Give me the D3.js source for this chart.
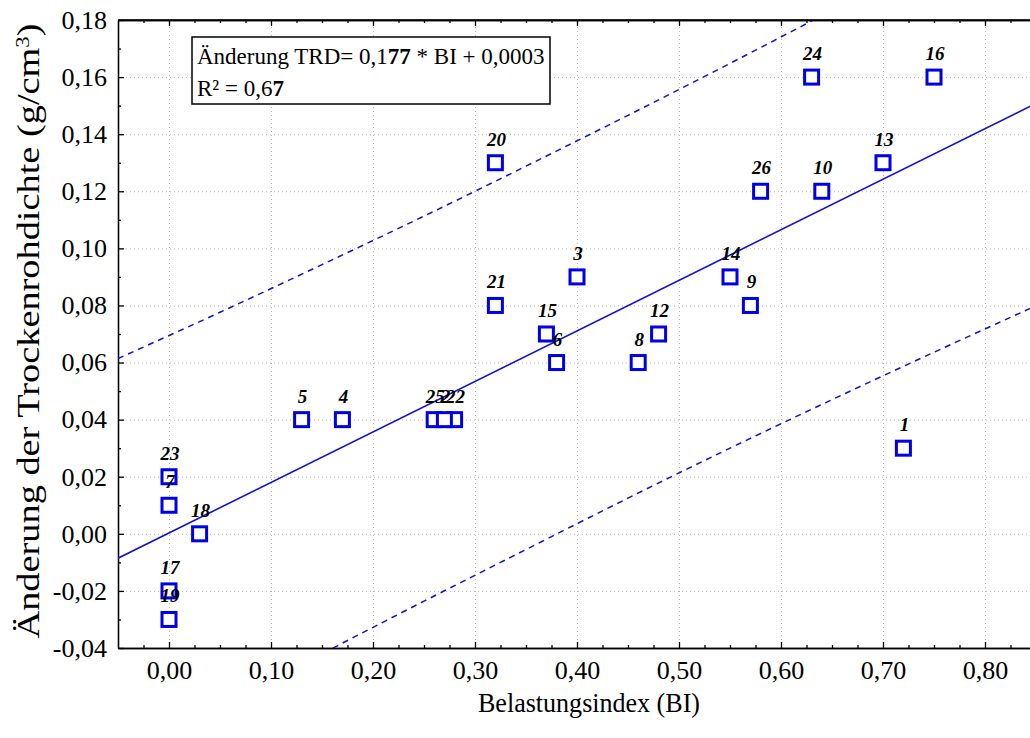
<!DOCTYPE html>
<html>
<head>
<meta charset="utf-8">
<script src="https://cdn.jsdelivr.net/npm/d3@7"></script>
<style>
  body { margin: 0; background: #fff; }
  svg text { font-family: "Liberation Serif", "DejaVu Serif", serif; fill: #000; }
  .grid line { stroke: #b8b8b8; stroke-dasharray: 1,3; }
  .grid path { display: none; }
  .axis path, .axis line { stroke: #000; stroke-width: 1.3; }
  .axis text { font-size: 26px; }
</style>
</head>
<body>
<div id="chart"></div>
<script>
// Data
const ids  = [1, 3, 4, 5, 6, 7, 8, 9, 10, 12, 13, 14, 15, 16, 17, 18, 19, 20, 21, 22, 23, 24, 25, 26, 2];
const bi   = [0.72, 0.40, 0.17, 0.13, 0.38, 0.00, 0.46, 0.57, 0.64, 0.48, 0.70, 0.55, 0.37, 0.75, 0.00, 0.03, 0.00, 0.32, 0.32, 0.28, 0.00, 0.63, 0.26, 0.58, 0.27];
const dTrd = [0.03, 0.09, 0.04, 0.04, 0.06, 0.01, 0.06, 0.08, 0.12, 0.07, 0.13, 0.09, 0.07, 0.16, -0.02, 0.00, -0.03, 0.13, 0.08, 0.04, 0.02, 0.16, 0.04, 0.12, 0.04];

// regression line from the legend
const slope = 0.177, intercept = 0.0003;

// prediction band (dashed)
const bandX     = [-0.05, 0.05, 0.15, 0.25, 0.35, 0.45, 0.55, 0.65, 0.75, 0.85];
const bandUpper = [0.0614, 0.0776, 0.0943, 0.1113, 0.1288, 0.1466, 0.1648, 0.1834, 0.2023, 0.2216];
const bandLower = [-0.0790, -0.0605, -0.0420, -0.0236, -0.0055, 0.0125, 0.0300, 0.0470, 0.0636, 0.0799];

const xTicks = [0, 0.1, 0.2, 0.3, 0.4, 0.5, 0.6, 0.7, 0.8];
const yTicks = [-0.04, -0.02, 0, 0.02, 0.04, 0.06, 0.08, 0.10, 0.12, 0.14, 0.16, 0.18];

const W = 1030, H = 738;
const pLeft = 118, pTop = 20, pBottom = 648, pRight = 1036;

const svg = d3.select("#chart").append("svg")
    .attr("width", W).attr("height", H);

const x = d3.scaleLinear().domain([-0.05, 0.85]).range([pLeft, pRight]);
const y = d3.scaleLinear().domain([-0.04, 0.18]).range([pBottom, pTop]);

const fmt = d => d3.format(".2f")(d).replace(".", ",").replace("−", "-");

svg.append("defs").append("clipPath").attr("id", "clip")
  .append("rect").attr("x", pLeft).attr("y", pTop)
  .attr("width", pRight - pLeft).attr("height", pBottom - pTop);

// grid
svg.append("g").attr("class", "grid")
    .attr("transform", `translate(0,${pBottom})`)
    .call(d3.axisBottom(x).tickValues(xTicks).tickSize(-(pBottom - pTop)).tickFormat(""));
svg.append("g").attr("class", "grid")
    .attr("transform", `translate(${pLeft},0)`)
    .call(d3.axisLeft(y).tickValues(yTicks.slice(1, -1)).tickSize(-(pRight - pLeft)).tickFormat(""));

// minor ticks
const xMinor = d3.range(-0.025, 0.85, 0.025).filter(v => Math.abs(Math.round(v * 10) - v * 10) > 1e-6);
const yMinor = d3.range(-0.03, 0.18, 0.02);

const gAxes = svg.append("g").attr("class", "axis");
gAxes.append("g").attr("transform", `translate(0,${pBottom})`)
    .call(d3.axisBottom(x).tickValues(xMinor).tickSize(-3).tickFormat("").tickSizeOuter(0));
gAxes.append("g").attr("transform", `translate(0,${pTop})`)
    .call(d3.axisTop(x).tickValues(xMinor).tickSize(-3).tickFormat("").tickSizeOuter(0));
gAxes.append("g").attr("transform", `translate(${pLeft},0)`)
    .call(d3.axisLeft(y).tickValues(yMinor).tickSize(-3).tickFormat("").tickSizeOuter(0));

// major axes
gAxes.append("g").attr("transform", `translate(0,${pBottom})`)
    .call(d3.axisBottom(x).tickValues(xTicks).tickSize(-6).tickSizeOuter(0).tickPadding(13).tickFormat(fmt));
gAxes.append("g").attr("transform", `translate(0,${pTop})`)
    .call(d3.axisTop(x).tickValues(xTicks).tickSize(-6).tickSizeOuter(0).tickFormat(""));
gAxes.append("g").attr("transform", `translate(${pLeft},0)`)
    .call(d3.axisLeft(y).tickValues(yTicks).tickSize(-6).tickSizeOuter(0).tickPadding(11).tickFormat(fmt));
gAxes.selectAll("g").attr("font-family", null).attr("font-size", null);

// regression + band
const plot = svg.append("g").attr("clip-path", "url(#clip)");
plot.append("line")
    .attr("x1", x(-0.05)).attr("y1", y(slope * -0.05 + intercept))
    .attr("x2", x(0.85)).attr("y2", y(slope * 0.85 + intercept))
    .attr("stroke", "#1010d8").attr("stroke-width", 1.6);

const bandLine = d3.line().curve(d3.curveNatural)
    .x((d, i) => x(bandX[i])).y(d => y(d));
[bandUpper, bandLower].forEach(b => {
  plot.append("path").attr("d", bandLine(b))
      .attr("fill", "none").attr("stroke", "#1010d8")
      .attr("stroke-width", 1.5).attr("stroke-dasharray", "6,5");
});

// points
const pts = ids.map((id, i) => ({ id, x: bi[i], y: dTrd[i] }));
const s = 14;
plot.selectAll("rect.pt").data(pts).enter().append("rect")
    .attr("class", "pt")
    .attr("x", d => x(d.x) - s / 2).attr("y", d => y(d.y) - s / 2)
    .attr("width", s).attr("height", s)
    .attr("fill", "#fff").attr("stroke", "#0000e8").attr("stroke-width", 3);

svg.selectAll("text.lbl").data(pts).enter().append("text")
    .attr("class", "lbl")
    .attr("x", d => x(d.x) + 1).attr("y", d => y(d.y) - 17)
    .attr("text-anchor", "middle")
    .attr("font-size", 19).attr("font-weight", "bold").attr("font-style", "italic")
    .text(d => d.id);

// frame top line
svg.append("line").attr("x1", pLeft).attr("x2", W).attr("y1", pTop).attr("y2", pTop)
    .attr("stroke", "#000").attr("stroke-width", 1.3);

// legend box
const lg = svg.append("g");
lg.append("rect").attr("x", 192).attr("y", 37).attr("width", 358).attr("height", 67)
    .attr("fill", "#fff").attr("stroke", "#000").attr("stroke-width", 1.5);
const t1 = lg.append("text").attr("x", 197).attr("y", 64).attr("font-size", 23);
t1.append("tspan").text("Änderung TRD= 0,1");
t1.append("tspan").attr("font-weight", "bold").text("77");
t1.append("tspan").text(" * BI + 0,0003");
const t2 = lg.append("text").attr("x", 197).attr("y", 96).attr("font-size", 23);
t2.append("tspan").text("R² = 0,6");
t2.append("tspan").attr("font-weight", "bold").text("7");

// axis titles
svg.append("text").attr("x", 589).attr("y", 712).attr("text-anchor", "middle")
    .attr("font-size", 27).attr("textLength", 222).attr("lengthAdjust", "spacingAndGlyphs")
    .text("Belastungsindex (BI)");
const yt = svg.append("text")
    .attr("transform", `translate(39,331) rotate(-90)`)
    .attr("text-anchor", "middle").attr("font-size", 32)
    .attr("textLength", 615).attr("lengthAdjust", "spacingAndGlyphs");
yt.append("tspan").text("Änderung der Trockenrohdichte (g/cm");
yt.append("tspan").attr("baseline-shift", "super").attr("font-size", 19).text("3");
yt.append("tspan").text(")");
</script>
</body>
</html>
